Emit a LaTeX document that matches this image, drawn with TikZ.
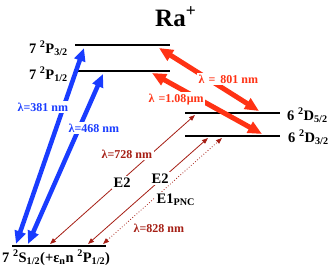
\documentclass[tikz,border=0pt]{standalone}
\usepackage{fontspec}
\setmainfont{Liberation Serif}
\usetikzlibrary{arrows.meta}
\definecolor{uv}{RGB}{25,60,255}
\definecolor{ir}{RGB}{255,50,20}
\definecolor{qd}{RGB}{165,30,20}

\begin{document}
\begin{tikzpicture}[x=1pt,y=-1pt,
  lvl/.style={line width=2pt},
  lab/.style={font=\fontsize{14.5}{14.5}\selectfont\bfseries,inner sep=0pt},
  wl/.style={font=\fontsize{12}{12}\selectfont\bfseries,fill=white,inner sep=1.5pt},
  b/.style={uv,line width=4.5pt,{Triangle[length=13pt,width=11pt]}-{Triangle[length=13pt,width=11pt]}},
  r/.style={ir,line width=5pt,{Triangle[length=14pt,width=12pt]}-{Triangle[length=14pt,width=12pt]}},
  e/.style={qd,line width=0.8pt,{Triangle[length=6pt,width=4.5pt]}-{Triangle[length=6pt,width=4.5pt]}}]
 \useasboundingbox (0,0) rectangle (332,273);
 % levels
 \coordinate (p3L) at (75,45);   \coordinate (p3R) at (170,45);
 \coordinate (p1L) at (78,71);   \coordinate (p1R) at (170,71);
 \coordinate (d5L) at (185,113); \coordinate (d5R) at (280,113);
 \coordinate (d3L) at (185,136); \coordinate (d3R) at (280,136);
 \coordinate (sL) at (12,246);   \coordinate (sR) at (106,246);
 \draw[lvl] (p3L)--(p3R); \draw[lvl] (p1L)--(p1R);
 \draw[lvl] (d5L)--(d5R); \draw[lvl] (d3L)--(d3R);
 \draw[lvl] (sL)--(sR);
 \node[lab,font=\fontsize{25}{25}\selectfont\bfseries,anchor=base west] (ion) at (155,26) {Ra\textsuperscript{+}};
 \node[lab,anchor=base east] (p3lab) at (68,53) {7 \textsuperscript{2}P\textsubscript{3/2}};
 \node[lab,anchor=base east] (p1lab) at (68,79) {7 \textsuperscript{2}P\textsubscript{1/2}};
 \node[lab,anchor=base west] (d5lab) at (287,120) {6 \textsuperscript{2}D\textsubscript{5/2}};
 \node[lab,anchor=base west] (d3lab) at (288,142) {6 \textsuperscript{2}D\textsubscript{3/2}};
 \node[lab,anchor=base west] (slab) at (2,262) {7 \textsuperscript{2}S\textsubscript{1/2}(+ε\textsubscript{n}n \textsuperscript{2}P\textsubscript{1/2})};
 % transition end points
 \coordinate (u1s) at (16,244);  \coordinate (u1p) at (84,48);
 \coordinate (u2s) at (28,244);  \coordinate (u2p) at (103,74);
 \coordinate (r1p) at (159,48);  \coordinate (r1d) at (259,111);
 \coordinate (r2p) at (152,73);  \coordinate (r2d) at (262,134);
 \coordinate (q1s) at (50,244);  \coordinate (q1d) at (195,115);
 \coordinate (q2s) at (88,244);  \coordinate (q2d) at (208,138);
 \coordinate (q3s) at (103,244); \coordinate (q3d) at (222,138);
 \draw[b] (u1s)--(u1p); \draw[b] (u2s)--(u2p);
 \draw[r] (r1p)--(r1d); \draw[r] (r2p)--(r2d);
 \draw[e] (q1s)--(q1d); \draw[e] (q2s)--(q2d);
 \draw[e,dotted] (q3s)--(q3d);
 % labels
 \node[wl,text=uv,anchor=base west] (l381) at (16,111) {λ=381 nm};
 \node[wl,text=uv,anchor=base west] (l468) at (67,132) {λ=468 nm};
 \node[wl,text=ir,anchor=base west] (l801) at (197,83) {λ\hspace{4pt}=\hspace{5pt}801 nm};
 \node[wl,text=ir,anchor=base west] (l108) at (147,102) {λ\hspace{4pt}=1.08\hspace{0.5pt}μm};
 \node[wl,text=qd,anchor=base west] (l728) at (100,158) {λ=728 nm};
 \node[wl,text=qd,anchor=base west] (l828) at (132,232) {λ=828 nm};
 \node[wl,lab,fill=white,inner sep=1.5pt,anchor=base west] (e2a) at (112,187) {E2};
 \node[wl,lab,fill=white,inner sep=1.5pt,anchor=base west] (e2b) at (150,183) {E2};
 \node[wl,lab,fill=white,inner sep=1.5pt,anchor=base west] (e1) at (155,203) {E1\textsubscript{PNC}};
\end{tikzpicture}
\end{document}
